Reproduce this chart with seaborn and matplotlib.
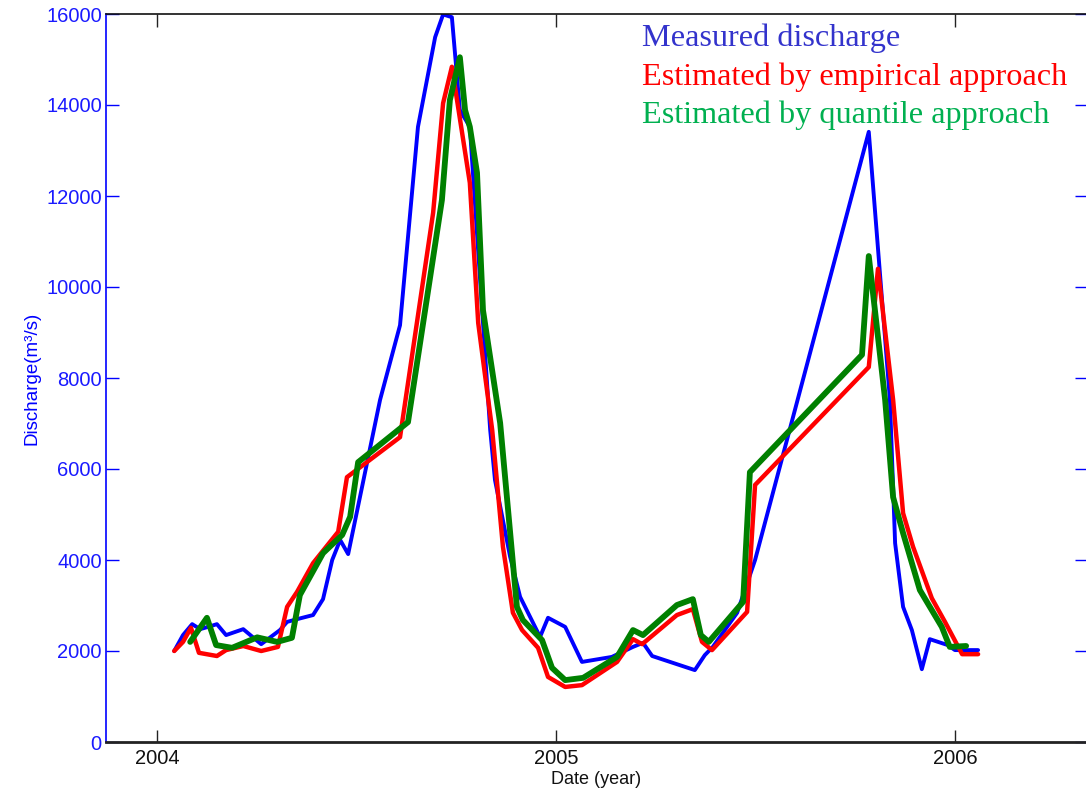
import matplotlib
matplotlib.use("Agg")
import matplotlib.pyplot as plt
import seaborn as sns
import pandas as pd

# Measured discharge (decimal year, m3/s)
measured_t = [2004.043, 2004.065, 2004.088, 2004.108, 2004.128, 2004.150, 2004.173,
              2004.216, 2004.261, 2004.308, 2004.326, 2004.351, 2004.391, 2004.416,
              2004.439, 2004.459, 2004.479, 2004.559, 2004.609, 2004.654, 2004.697,
              2004.717, 2004.739, 2004.759, 2004.784, 2004.835, 2004.847, 2004.885,
              2004.910, 2004.960, 2004.980, 2005.023, 2005.065, 2005.140, 2005.193,
              2005.218, 2005.241, 2005.348, 2005.373, 2005.393, 2005.454, 2005.499,
              2005.784, 2005.837, 2005.850, 2005.870, 2005.892, 2005.917, 2005.937,
              2005.982, 2006.000, 2006.058]
measured_q = [2000, 2350, 2590, 2480, 2530, 2590, 2350,
              2480, 2150, 2460, 2640, 2700, 2790, 3140,
              4000, 4440, 4130, 7520, 9160, 13520, 15490,
              15990, 15930, 13890, 13520, 6860, 5760, 4070,
              3190, 2310, 2730, 2530, 1760, 1870, 2090,
              2180, 1890, 1580, 1910, 2090, 2840, 4000,
              13410, 7520, 4370, 2970, 2460, 1600, 2260,
              2130, 2020, 2020]

# Estimated by empirical approach
empirical_t = [2004.043, 2004.065, 2004.085, 2004.105, 2004.150, 2004.173, 2004.216,
               2004.261, 2004.303, 2004.326, 2004.351, 2004.391, 2004.454, 2004.476,
               2004.609, 2004.692, 2004.717, 2004.739, 2004.784, 2004.805, 2004.840,
               2004.867, 2004.892, 2004.915, 2004.955, 2004.980, 2005.023, 2005.065,
               2005.153, 2005.193, 2005.216, 2005.303, 2005.343, 2005.366, 2005.391,
               2005.479, 2005.499, 2005.784, 2005.807, 2005.845, 2005.870, 2005.895,
               2005.942, 2005.975, 2006.018, 2006.058]
empirical_q = [2000, 2200, 2510, 1960, 1890, 2020, 2110,
               2000, 2090, 2970, 3300, 3930, 4620, 5820,
               6700, 11630, 14040, 14840, 12290, 9210, 6860,
               4290, 2840, 2460, 2070, 1430, 1210, 1250,
               1760, 2260, 2150, 2790, 2920, 2200, 2020,
               2860, 5650, 8240, 10400, 7520, 5030, 4290,
               3160, 2640, 1930, 1930]

# Estimated by quantile approach
quantile_t = [2004.083, 2004.125, 2004.148, 2004.188, 2004.251, 2004.301, 2004.338,
              2004.358, 2004.416, 2004.464, 2004.484, 2004.504, 2004.629, 2004.714,
              2004.734, 2004.759, 2004.772, 2004.784, 2004.802, 2004.817, 2004.860,
              2004.902, 2004.917, 2004.965, 2004.990, 2005.023, 2005.068, 2005.153,
              2005.193, 2005.218, 2005.303, 2005.343, 2005.363, 2005.383, 2005.469,
              2005.486, 2005.767, 2005.784, 2005.825, 2005.845, 2005.870, 2005.912,
              2005.967, 2005.987, 2006.028]
quantile_q = [2200, 2730, 2130, 2070, 2300, 2200, 2290,
              3230, 4150, 4550, 4950, 6150, 7030, 11910,
              14110, 15050, 13890, 13520, 12510, 9490, 7010,
              2970, 2680, 2240, 1630, 1360, 1410, 1870,
              2460, 2350, 3010, 3140, 2350, 2200, 3080,
              5930, 8510, 10680, 7520, 5380, 4590, 3340,
              2530, 2090, 2110]

series_names = ["Measured discharge",
                "Estimated by empirical approach",
                "Estimated by quantile approach"]
line_colors = ["#0000ff", "#ff0000", "#008000"]
text_colors = ["#3333cc", "#ff0000", "#00b050"]
line_widths = [2.8, 3.2, 4.2]

year_ticks = [2004, 2005, 2006]
discharge_ticks = [0, 2000, 4000, 6000, 8000, 10000, 12000, 14000, 16000]

sns.set_style("white")
plt.rcParams["font.family"] = ["Liberation Sans", "DejaVu Sans"]

fig = plt.figure(figsize=(10.86, 7.90), dpi=100)
ax = fig.add_axes([106 / 1086, 48 / 790, 981 / 1086, 728 / 790])

frames = [
    pd.DataFrame({"t": measured_t, "q": measured_q}),
    pd.DataFrame({"t": empirical_t, "q": empirical_q}),
    pd.DataFrame({"t": quantile_t, "q": quantile_q}),
]
for df, col, lw in zip(frames, line_colors, line_widths):
    sns.lineplot(data=df, x="t", y="q", ax=ax, color=col, linewidth=lw,
                 sort=False, estimator=None)

ax.set_xlim(2003.872, 2006.331)
ax.set_ylim(0, 16000)
ax.set_xticks(year_ticks)
ax.set_xticklabels([str(y) for y in year_ticks])
ax.set_yticks(discharge_ticks)
ax.set_yticklabels([str(v) for v in discharge_ticks])

ax.tick_params(axis="x", direction="in", length=9, width=1, colors="#222222",
               labelsize=14.5, top=True, bottom=True, pad=5)
ax.tick_params(axis="y", direction="in", length=9, width=1, colors="#0000ff",
               labelsize=14.5, left=True, right=True, pad=3)
for lab in ax.get_yticklabels():
    lab.set_color("#1a1aff")
for lab in ax.get_xticklabels():
    lab.set_color("#111111")

ax.spines["left"].set_color("#0000ff")
ax.spines["left"].set_linewidth(1.2)
ax.spines["bottom"].set_color("#222222")
ax.spines["bottom"].set_linewidth(2.0)
ax.spines["top"].set_color("#111111")
ax.spines["top"].set_linewidth(1.2)
ax.spines["right"].set_visible(False)

ax.set_xlabel("Date (year)", fontsize=13, color="#111111", labelpad=2)
ax.set_ylabel("Discharge(m³/s)", fontsize=13.5, color="#0000ff", labelpad=4)

legend_y = [38, 77, 115]
for name, col, yp in zip(series_names, text_colors, legend_y):
    fig.text(642 / 1086, 1 - yp / 790, name, color=col, fontsize=23.2,
             family=["Liberation Serif", "DejaVu Serif"], va="center", ha="left")

fig.savefig("out.png", dpi=100)
